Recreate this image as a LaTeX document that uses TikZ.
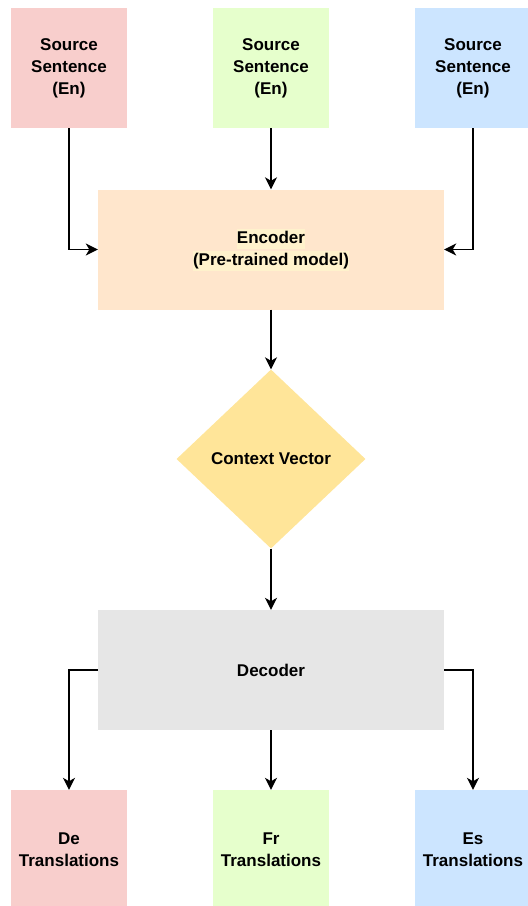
\documentclass[tikz,border=0pt]{standalone}
\usepackage{fontspec}
\setmainfont{Liberation Sans}
\usetikzlibrary{shapes.geometric,arrows.meta}
\definecolor{deRed}{HTML}{F8CECC}
\definecolor{frGreen}{HTML}{E6FFCC}
\definecolor{esBlue}{HTML}{CCE5FF}
\definecolor{encOrange}{HTML}{FFE6CC}
\definecolor{ctxYellow}{HTML}{FFE599}
\definecolor{decGray}{HTML}{E6E6E6}
\definecolor{encHl}{HTML}{FFF2CC}
\newcommand{\hlbox}[1]{{\setlength{\fboxsep}{0pt}\colorbox{encHl}{\rule[-5pt]{0pt}{20pt}#1}}}
\begin{document}
\begin{tikzpicture}[
			x=1pt, y=-1pt,
			every node/.style={font=\bfseries\fontsize{17}{22}\selectfont, align=center},
			langbox/.style={rectangle, minimum width=116pt, minimum height=120pt, inner sep=0pt},
			block/.style={rectangle, minimum width=346pt, minimum height=120pt, inner sep=0pt},
			ctx/.style={diamond, fill=ctxYellow, minimum width=189pt, minimum height=179pt, inner sep=0pt},
			link/.style={line width=1.3pt, -{Stealth[length=12pt, width=12pt, inset=3.5pt]}}
		]
		\useasboundingbox (0,0) rectangle (528,906);
		% sources
		\node[langbox, fill=deRed] (srcDe) at (69,68) {Source\\Sentence\\(En)};
		\node[langbox, fill=frGreen] (srcFr) at (271,68) {Source\\Sentence\\(En)};
		\node[langbox, fill=esBlue] (srcEs) at (473,68) {Source\\Sentence\\(En)};
		% encoder, context, decoder
		\node[block, fill=encOrange] (enc) at (271,249.5) {\hlbox{Encoder}\\\hlbox{(Pre-trained model)}};
		\node[ctx] (ctxVec) at (271,459) {Context Vector};
		\node[block, fill=decGray] (dec) at (271,670) {Decoder};
		% translations
		\node[langbox, fill=deRed] (outDe) at (69,850) {De\\Translations};
		\node[langbox, fill=frGreen] (outFr) at (271,850) {Fr\\Translations};
		\node[langbox, fill=esBlue] (outEs) at (473,850) {Es\\Translations};
		% connectors
		\draw[link] (srcDe.south) |- (enc.west);
		\draw[link] (srcFr.south) -- (enc.north);
		\draw[link] (srcEs.south) |- (enc.east);
		\draw[link] (enc.south) -- (ctxVec.north);
		\draw[link] (ctxVec.south) -- (dec.north);
		\draw[link] (dec.west) -| (outDe.north);
		\draw[link] (dec.south) -- (outFr.north);
		\draw[link] (dec.east) -| (outEs.north);
	\end{tikzpicture}
\end{document}
